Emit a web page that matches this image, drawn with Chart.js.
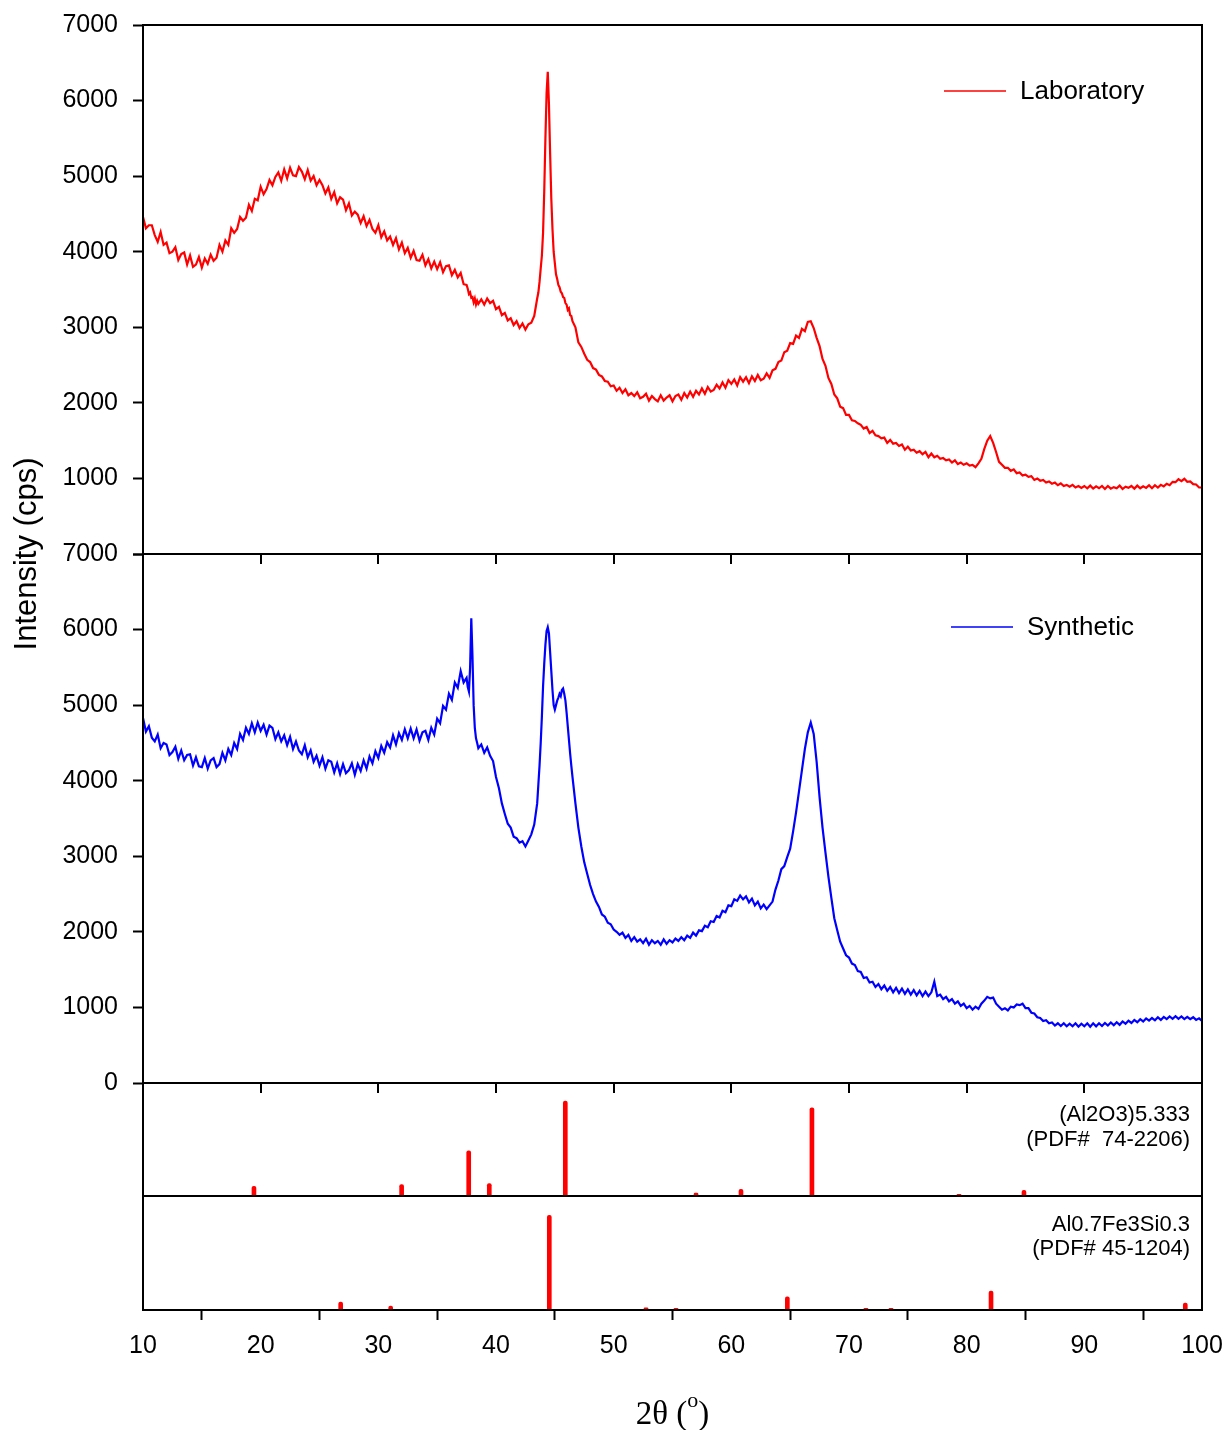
<!DOCTYPE html>
<html>
<head>
<meta charset="utf-8">
<script src="https://cdn.jsdelivr.net/npm/chart.js@4.4.1/dist/chart.umd.min.js"></script>
<style>
html,body{margin:0;padding:0;background:#fff;}
#wrap{width:1226px;height:1430px;position:relative;}
</style>
</head>
<body>
<div id="wrap"><canvas id="c" width="1226" height="1430"></canvas></div>
<script>
// ---------------- DATA ----------------
const twoTheta = [
10,10.25,10.5,10.75, 11,11.25,11.5,11.75, 12,12.25,12.5,12.75, 13,13.25,13.5,13.75, 14,14.25,14.5,14.75,
15,15.25,15.5,15.75, 16,16.25,16.5,16.75, 17,17.25,17.5,17.75, 18,18.25,18.5,18.75, 19,19.25,19.5,19.75,
20,20.25,20.5,20.75, 21,21.25,21.5,21.75, 22,22.25,22.5,22.75, 23,23.25,23.5,23.75, 24,24.25,24.5,24.75,
25,25.25,25.5,25.75, 26,26.25,26.5,26.75, 27,27.25,27.5,27.75, 28,28.25,28.5,28.75, 29,29.25,29.5,29.75,
30,30.25,30.5,30.75, 31,31.25,31.5,31.75, 32,32.25,32.5,32.75, 33,33.25,33.5,33.75, 34,34.25,34.5,34.75,
35,35.25,35.5,35.75, 36,36.25,36.5,36.75, 37,37.25,37.5,
37.6,37.7,37.8,37.9,38,38.1,38.2,38.3,38.4,
38.5,38.75,39,39.25,39.5,39.75,40,40.25,40.5,40.75,41,41.25,41.5,41.75,42,42.25,42.5,42.75,43,43.25,43.5,
43.6,43.7,43.8,43.9,44,44.1,44.2,44.3,44.4,44.5,44.6,44.7,44.8,44.9,45,45.1,45.2,45.3,45.4,45.5,45.6,45.7,45.8,45.9,46,46.1,46.2,46.3,46.4,
46.5,46.75,
47,47.25,47.5,47.75, 48,48.25,48.5,48.75, 49,49.25,49.5,49.75,
50,50.25,50.5,50.75, 51,51.25,51.5,51.75, 52,52.25,52.5,52.75, 53,53.25,53.5,53.75, 54,54.25,54.5,54.75,
55,55.25,55.5,55.75, 56,56.25,56.5,56.75, 57,57.25,57.5,57.75, 58,58.25,58.5,58.75, 59,59.25,59.5,59.75,
60,60.25,60.5,60.75, 61,61.25,61.5,61.75, 62,62.25,62.5,62.75, 63,63.25,63.5,63.75, 64,64.25,64.5,64.75,
65,65.25,65.5,65.75, 66,66.25,66.5,66.75, 67,67.25,67.5,67.75, 68,68.25,68.5,68.75, 69,69.25,69.5,69.75,
70,70.25,70.5,70.75, 71,71.25,71.5,71.75, 72,72.25,72.5,72.75, 73,73.25,73.5,73.75, 74,74.25,74.5,74.75,
75,75.25,75.5,75.75, 76,76.25,76.5,76.75, 77,77.25,77.5,77.75, 78,78.25,78.5,78.75, 79,79.25,79.5,79.75,
80,80.25,80.5,80.75, 81,81.25,81.5,81.75, 82,82.25,82.5,82.75, 83,83.25,83.5,83.75, 84,84.25,84.5,84.75,
85,85.25,85.5,85.75, 86,86.25,86.5,86.75, 87,87.25,87.5,87.75, 88,88.25,88.5,88.75, 89,89.25,89.5,89.75,
90,90.25,90.5,90.75, 91,91.25,91.5,91.75, 92,92.25,92.5,92.75, 93,93.25,93.5,93.75, 94,94.25,94.5,94.75,
95,95.25,95.5,95.75, 96,96.25,96.5,96.75, 97,97.25,97.5,97.75, 98,98.25,98.5,98.75, 99,99.25,99.5,99.75,
100
];

const laboratory = [
4460,4310,4350,4350, 4220,4130,4260,4090, 4120,3980,4000,4060, 3890,3970,3990,3830, 3950,3800,3830,3930,
3790,3910,3840,3960, 3880,3920,4090,4000, 4150,4090,4310,4250, 4300,4460,4410,4450, 4620,4540,4700,4680,
4860,4760,4830,4950, 4880,4990,5050,4940, 5090,4970,5110,5010, 5000,5120,5060,4960, 5080,4940,5000,4880,
4950,4880,4770,4850, 4700,4790,4640,4720, 4690,4550,4640,4480, 4530,4490,4380,4470, 4340,4420,4300,4250,
4350,4190,4270,4150, 4200,4090,4180,4030, 4120,3980,4050,3920, 4010,3890,3880,3960, 3820,3900,3780,3870,
3770,3860,3730,3810, 3820,3690,3760,3660, 3720,3570,3560,
3510,3440,3460,3390,3400,3330,3380,3300,3350,
3310,3370,3300,3380,3320,3350,3240,3270,3160,3190,3090,3120,3030,3080,2990,3050,2970,3040,3060,3150,3380,
3460,3600,3780,3950,4250,4800,5500,6100,6380,5950,5300,4700,4300,4000,3850,3700,3640,3560,3530,3470,3450,3400,3390,3320,3300,3230,3250,3160,3150,
3080,3000,
2800,2740,2650,2570, 2540,2460,2440,2370, 2350,2290,2280,2220,
2230,2160,2200,2130, 2180,2100,2130,2090, 2140,2060,2080,2120, 2030,2090,2050,2020, 2100,2030,2070,2100,
2020,2090,2110,2040, 2130,2070,2150,2080, 2160,2110,2190,2120, 2210,2150,2170,2240, 2190,2270,2200,2300,
2250,2310,2230,2340, 2280,2340,2260,2350, 2290,2370,2300,2320, 2390,2330,2430,2450, 2540,2560,2670,2690,
2790,2780,2890,2860, 2980,2950,3070,3080, 2990,2860,2750,2580, 2490,2330,2250,2110, 2060,1950,1930,1840,
1840,1770,1760,1730, 1710,1660,1680,1600, 1630,1570,1560,1530, 1540,1470,1510,1460, 1470,1430,1450,1380,
1420,1370,1380,1340, 1360,1320,1350,1280, 1330,1280,1300,1260, 1270,1240,1250,1210, 1240,1190,1210,1180,
1200,1170,1180,1150, 1200,1260,1390,1500, 1560,1470,1350,1220, 1180,1140,1140,1100, 1120,1070,1080,1040,
1050,1020,1030,980, 1000,970,980,945, 960,930,945,910, 935,900,915,890, 915,880,900,875,
900,870,905,865, 895,870,900,860, 900,865,885,870, 905,860,890,875, 900,865,905,870,
895,875,910,870, 910,880,915,895, 930,910,955,950, 990,965,995,955, 960,925,920,880,
880
];

const synthetic = [
4830,4650,4720,4570, 4520,4610,4430,4500, 4480,4340,4380,4450, 4290,4400,4270,4340, 4350,4200,4310,4190,
4180,4300,4160,4270, 4300,4180,4220,4370, 4270,4420,4340,4500, 4420,4620,4540,4700, 4620,4760,4640,4770,
4660,4740,4610,4730, 4700,4550,4640,4520, 4600,4470,4580,4420, 4520,4400,4350,4470, 4310,4400,4250,4330,
4200,4310,4160,4270, 4250,4110,4230,4090, 4220,4100,4140,4230, 4080,4220,4130,4270, 4160,4320,4230,4390,
4300,4460,4370,4510, 4440,4600,4480,4630, 4540,4680,4560,4690, 4560,4680,4530,4640, 4660,4540,4700,4610,
4820,4760,4990,4940, 5150,5070,5300,5230, 5450,5300,5360,
5240,5180,5500,6150,5650,5000,4700,4560,4500,
4430,4480,4370,4440,4330,4260,4050,3900,3700,3560,3430,3380,3260,3240,3180,3200,3130,3210,3290,3420,3700,
3950,4200,4500,4850,5250,5550,5800,5980,6030,5950,5700,5450,5200,5000,4940,5000,5060,5100,5150,5120,5200,5220,5150,5060,4900,4720,4540,4360,4200,
4050,3700,
3380,3130,2920,2770, 2620,2500,2400,2330, 2230,2200,2120,2100,
2030,2000,1960,1990, 1920,1960,1880,1930, 1870,1900,1850,1910, 1830,1890,1850,1880, 1830,1900,1840,1890,
1860,1910,1880,1930, 1890,1950,1920,1990, 1950,2020,2010,2080, 2060,2140,2130,2210, 2190,2280,2260,2350,
2340,2430,2410,2480, 2430,2470,2390,2440, 2350,2400,2310,2360, 2300,2350,2400,2560, 2680,2830,2870,2990,
3100,3330,3580,3860, 4140,4420,4640,4770, 4620,4250,3780,3380, 3050,2730,2450,2180, 2020,1870,1780,1690,
1660,1580,1560,1480, 1470,1390,1400,1330, 1340,1270,1310,1240, 1290,1220,1270,1200, 1260,1190,1250,1180,
1240,1170,1230,1160, 1220,1150,1210,1150, 1200,1340,1150,1170, 1110,1140,1080,1110, 1050,1080,1020,1050,
990,1020,970,1010, 980,1050,1090,1140, 1120,1130,1050,1010, 970,990,960,1010, 1000,1040,1030,1050,
990,990,930,920, 870,860,820,830, 790,800,760,790, 755,790,750,785, 750,790,745,785,
750,790,745,790, 750,790,755,795, 760,800,765,805, 770,815,785,825, 795,835,805,845,
815,855,825,860, 830,870,835,875, 845,880,850,885, 850,880,845,875, 845,870,835,855,
820
];

// Reference patterns (stick positions in 2θ and relative intensities)
const al2o3Pos = [19.43, 31.98, 37.68, 39.43, 45.89, 57.0, 60.82, 66.85, 79.35, 84.87];
const al2o3Int = [8.5, 10, 40, 11, 84, 2.5, 6, 78, 1.5, 5];
const fesiPos  = [26.8, 31.05, 44.53, 52.75, 55.3, 64.76, 71.44, 73.57, 82.07, 98.58];
const fesiInt  = [7, 3.5, 83, 2, 1.5, 11.5, 1.5, 1.5, 16.5, 6];

const seriesNames = ['Laboratory', 'Synthetic'];
const ref1Lines = ['(Al2O3)5.333', '(PDF#  74-2206)'];
const ref2Lines = ['Al0.7Fe3Si0.3', '(PDF# 45-1204)'];
const xTicks = [10, 20, 30, 40, 50, 60, 70, 80, 90, 100];
const yTitle = 'Intensity (cps)';
const xTitleMain = '2θ (';
const xTitleSup = 'o';
const xTitleEnd = ')';

// ---------------- CHART ----------------
const SANS = "'Liberation Sans', Arial, Helvetica, sans-serif";
const SERIF = "'Liberation Serif', 'Times New Roman', serif";
const BLACK = '#000000';
const RED = '#FF0000';
const BLUE = '#0000FF';

const framePlugin = {
  id: 'frame',
  afterDraw(chart) {
    const {ctx, chartArea: ca, scales} = chart;
    ctx.save();
    ctx.strokeStyle = BLACK;
    ctx.lineWidth = 2;
    ['yTop', 'yMid', 'yS1', 'yS2'].forEach(id => {
      const s = scales[id];
      ctx.strokeRect(ca.left, s.top, ca.right - ca.left, s.bottom - s.top);
    });
    // x tick marks under the upper panels
    const xs = scales.x;
    [scales.yTop.bottom, scales.yMid.bottom].forEach(yb => {
      xTicks.forEach(v => {
        const px = Math.round(xs.getPixelForValue(v));
        ctx.beginPath();
        ctx.moveTo(px, yb);
        ctx.lineTo(px, yb + 10);
        ctx.stroke();
      });
    });

    // legends
    const drawLegend = (x0, y0, color, text) => {
      ctx.strokeStyle = color;
      ctx.lineWidth = 1.5;
      ctx.beginPath();
      ctx.moveTo(x0, y0);
      ctx.lineTo(x0 + 62, y0);
      ctx.stroke();
      ctx.fillStyle = BLACK;
      ctx.font = '26px ' + SANS;
      ctx.textAlign = 'left';
      ctx.textBaseline = 'middle';
      ctx.fillText(text, x0 + 76, y0 + 1);
    };
    drawLegend(ca.right - 258, scales.yTop.top + 66, RED, seriesNames[0]);
    drawLegend(ca.right - 251, scales.yMid.top + 73, BLUE, seriesNames[1]);

    // reference pattern labels
    ctx.fillStyle = BLACK;
    ctx.font = '22px ' + SANS;
    ctx.textAlign = 'right';
    ctx.textBaseline = 'middle';
    ctx.fillText(ref1Lines[0], ca.right - 12, scales.yS1.top + 32);
    ctx.fillText(ref1Lines[1], ca.right - 12, scales.yS1.top + 57);
    ctx.fillText(ref2Lines[0], ca.right - 12, scales.yS2.top + 29);
    ctx.fillText(ref2Lines[1], ca.right - 12, scales.yS2.top + 53);

    // y axis title
    ctx.save();
    ctx.translate(27, (scales.yTop.top + scales.yMid.bottom) / 2);
    ctx.rotate(-Math.PI / 2);
    ctx.font = '31px ' + SANS;
    ctx.textAlign = 'center';
    ctx.textBaseline = 'middle';
    ctx.fillText(yTitle, 0, 0);
    ctx.restore();

    // x axis title with superscript
    const cx = (ca.left + ca.right) / 2;
    const base = ca.bottom + 114;
    ctx.textBaseline = 'alphabetic';
    ctx.textAlign = 'left';
    ctx.font = '33px ' + SERIF;
    const w1 = ctx.measureText(xTitleMain).width;
    const w3 = ctx.measureText(xTitleEnd).width;
    ctx.font = '22px ' + SERIF;
    const w2 = ctx.measureText(xTitleSup).width;
    let x0 = cx - (w1 + w2 + w3) / 2;
    ctx.font = '33px ' + SERIF;
    ctx.fillText(xTitleMain, x0, base);
    ctx.font = '22px ' + SERIF;
    ctx.fillText(xTitleSup, x0 + w1, base - 17);
    ctx.font = '33px ' + SERIF;
    ctx.fillText(xTitleEnd, x0 + w1 + w2, base);
    ctx.restore();
  }
};

const yMain = (stackWeight, weight, hideZero) => ({
  type: 'linear', position: 'left', stack: 'panels', stackWeight, weight,
  min: 0, max: 7000, offset: false,
  ticks: {
    stepSize: 1000, color: BLACK, padding: 15,
    font: {family: SANS, size: 25},
    callback: v => (hideZero && v === 0) ? '' : String(v)
  },
  grid: {drawOnChartArea: false, drawTicks: true, tickLength: 10, tickColor: BLACK, tickWidth: 2},
  border: {display: true, color: BLACK, width: 2},
  afterFit: s => { s.width = 143; s.paddingTop = 0; s.paddingBottom = 0; }
});
const yStick = (stackWeight, weight) => ({
  type: 'linear', position: 'left', stack: 'panels', stackWeight, weight,
  min: 0, max: 100, offset: false,
  ticks: {display: false},
  grid: {display: false},
  border: {display: true, color: BLACK, width: 2},
  afterFit: s => { s.width = 143; s.paddingTop = 0; s.paddingBottom = 0; }
});

new Chart(document.getElementById('c'), {
  type: 'line',
  data: {
    datasets: [
      {
        label: seriesNames[0],
        data: twoTheta.map((x, i) => ({x, y: laboratory[i]})),
        xAxisID: 'x', yAxisID: 'yTop',
        borderColor: RED, borderWidth: 2.2, pointRadius: 0, tension: 0, fill: false,
        borderJoinStyle: 'miter'
      },
      {
        label: seriesNames[1],
        data: twoTheta.map((x, i) => ({x, y: synthetic[i]})),
        xAxisID: 'x', yAxisID: 'yMid',
        borderColor: BLUE, borderWidth: 2.2, pointRadius: 0, tension: 0, fill: false,
        borderJoinStyle: 'miter'
      },
      {
        type: 'bar',
        label: ref1Lines[0],
        data: al2o3Pos.map((x, i) => ({x, y: al2o3Int[i]})),
        xAxisID: 'x', yAxisID: 'yS1',
        backgroundColor: RED, barThickness: 4, grouped: false,
        borderRadius: 2, borderSkipped: 'start'
      },
      {
        type: 'bar',
        label: ref2Lines[0],
        data: fesiPos.map((x, i) => ({x, y: fesiInt[i]})),
        xAxisID: 'x', yAxisID: 'yS2',
        backgroundColor: RED, barThickness: 4, grouped: false,
        borderRadius: 2, borderSkipped: 'start'
      }
    ]
  },
  options: {
    responsive: false,
    animation: false,
    devicePixelRatio: 1,
    layout: {padding: {left: 0, right: 24, top: 25, bottom: 0}},
    plugins: {legend: {display: false}, tooltip: {enabled: false}, title: {display: false}},
    scales: {
      x: {
        type: 'linear', position: 'bottom', min: 10, max: 100, offset: false,
        afterBuildTicks: s => { s.ticks = xTicks.map(v => ({value: v})); },
        ticks: {color: BLACK, padding: 11, maxRotation: 0, autoSkip: false,
                font: {family: SANS, size: 25}, callback: v => String(v)},
        grid: {drawOnChartArea: false, drawTicks: true, tickLength: 10, tickColor: BLACK, tickWidth: 2},
        border: {display: true, color: BLACK, width: 2},
        afterFit: s => { s.height = 120; s.paddingLeft = 0; s.paddingRight = 0; }
      },
      yTop: yMain(529, 4, true),
      yMid: yMain(529, 3, false),
      yS1: yStick(113, 2),
      yS2: yStick(114, 1)
    }
  },
  plugins: [framePlugin]
});
</script>
</body>
</html>
